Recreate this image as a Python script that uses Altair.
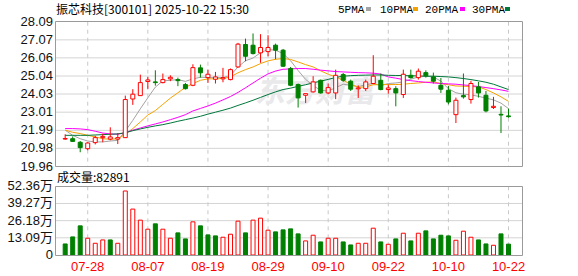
import altair as alt
import pandas as pd

# ---------------- data ----------------
dates = ["07-23","07-24","07-25","07-28","07-29","07-30","07-31","08-01","08-04","08-05",
         "08-06","08-07","08-08","08-11","08-12","08-13","08-14","08-15","08-18","08-19",
         "08-20","08-21","08-22","08-25","08-26","08-27","08-28","08-29","09-01","09-02",
         "09-03","09-04","09-05","09-08","09-09","09-10","09-11","09-12","09-15","09-16",
         "09-17","09-18","09-19","09-22","09-23","09-24","09-25","09-26","09-29","09-30",
         "10-09","10-10","10-13","10-14","10-15","10-16","10-17","10-20","10-21","10-22"]

opens = [21.50,21.52,21.32,20.96,21.30,21.58,21.50,21.50,21.58,23.75,
         23.94,24.73,24.71,24.67,24.88,24.84,24.56,24.52,25.50,24.95,
         24.86,24.88,24.84,25.55,26.81,26.77,26.34,26.41,26.77,26.49,
         25.46,24.56,23.96,24.15,24.80,24.09,24.09,25.12,24.75,24.32,
         24.33,24.62,24.80,24.28,24.33,24.00,25.08,24.95,25.23,24.99,
         24.52,24.24,22.87,23.94,23.72,24.43,23.96,23.27,22.89,22.80]
highs = [21.77,21.65,21.39,21.32,21.69,21.80,22.16,21.84,23.94,24.30,
         25.12,25.00,25.36,25.18,25.08,24.95,24.65,25.70,25.68,25.40,
         25.27,25.50,25.46,26.90,27.14,27.43,27.39,27.33,26.86,26.56,
         25.55,24.62,24.05,25.03,24.84,24.62,25.40,25.21,24.84,24.52,
         24.84,26.21,25.18,24.56,24.47,25.40,25.40,25.46,25.36,25.23,
         24.93,24.48,23.83,25.18,24.77,24.71,24.20,23.87,23.34,23.21]
lows = [21.47,21.34,20.76,20.87,21.20,21.32,21.43,21.22,21.58,23.42,
        23.94,24.32,24.50,24.63,24.75,24.47,24.28,24.47,24.95,24.65,
        24.62,24.69,24.80,25.51,25.87,26.25,25.78,26.15,25.98,25.55,
        24.47,23.27,23.53,24.11,24.05,24.02,23.74,24.71,24.20,23.81,
        24.20,24.58,24.24,24.05,23.34,23.81,24.90,24.84,24.95,24.62,
        24.09,23.45,22.40,23.77,23.49,23.83,23.00,23.19,21.84,22.70]
closes = [21.53,21.37,21.02,21.28,21.58,21.65,21.62,21.58,23.72,24.02,
          24.67,24.82,24.67,24.84,24.97,24.78,24.33,25.51,25.22,25.14,
          24.99,24.95,25.40,26.83,26.15,26.30,26.64,26.64,26.49,25.59,
          24.52,23.81,24.05,24.71,24.09,24.39,25.08,24.80,24.30,24.37,
          24.71,25.03,24.28,24.37,24.09,25.14,24.95,25.31,25.05,24.75,
          24.30,23.58,23.68,23.87,24.62,24.09,23.08,23.34,22.85,22.76]

volumes = [8.43,13.79,22.22,12.77,8.94,11.49,11.49,8.94,48.78,34.99,
           26.56,19.67,23.75,19.67,12.77,16.86,12.26,25.28,22.22,15.32,
           14.56,13.54,15.83,25.80,16.86,26.56,28.09,18.90,17.62,19.16,
           19.92,16.09,10.73,15.07,9.96,12.77,12.77,9.96,7.66,8.94,
           8.94,20.43,9.96,8.17,12.26,16.60,10.73,16.60,18.39,12.26,
           15.07,14.56,11.24,18.13,13.54,11.49,8.43,7.41,16.09,8.29]
vol_up = [0,0,0,1,1,1,0,1,1,1,
          1,1,0,1,1,0,0,1,0,0,
          0,1,1,1,0,1,1,1,0,0,
          0,0,1,1,0,1,1,0,0,1,
          1,1,0,1,0,1,0,1,0,0,
          0,0,1,1,1,0,0,1,0,0]

ma5 = [22.00,21.71,21.52,21.39,21.34,21.34,21.39,21.43,21.95,22.55,
       23.20,23.82,24.42,24.77,24.80,24.84,24.74,24.88,24.97,24.95,
       24.95,24.95,25.08,25.55,25.90,26.05,26.35,26.53,26.49,26.30,
       25.90,25.35,24.85,24.50,24.24,24.20,24.38,24.58,24.52,24.45,
       24.55,24.62,24.50,24.62,24.65,24.71,24.86,24.99,25.03,24.99,
       24.75,24.33,24.10,24.02,23.98,23.90,23.80,23.70,23.52,23.21]
ma10 = [22.00,21.88,21.81,21.71,21.62,21.52,21.49,21.52,21.77,22.09,
        22.46,22.85,23.10,23.45,23.80,24.10,24.40,24.62,24.80,24.88,
        24.88,24.90,24.99,25.22,25.40,25.55,25.74,25.89,25.98,26.02,
        25.97,25.83,25.68,25.55,25.33,25.14,24.99,24.80,24.58,24.41,
        24.43,24.55,24.56,24.56,24.56,24.58,24.62,24.65,24.69,24.71,
        24.62,24.55,24.48,24.47,24.45,24.43,24.28,24.09,23.87,23.62]
ma20 = [22.09,22.09,22.07,22.03,21.94,21.84,21.79,21.77,21.86,22.00,
        22.12,22.24,22.35,22.46,22.59,22.72,22.87,23.08,23.22,23.36,
        23.52,23.70,23.89,24.12,24.38,24.65,24.92,25.16,25.32,25.42,
        25.44,25.46,25.46,25.42,25.37,25.33,25.29,25.27,25.25,25.23,
        25.22,25.20,25.15,24.99,24.92,24.84,24.78,24.73,24.69,24.65,
        24.62,24.60,24.58,24.54,24.50,24.45,24.39,24.33,24.26,24.18]
ma30 = [21.71,21.71,21.71,21.71,21.73,21.75,21.77,21.79,21.86,21.97,
        22.07,22.16,22.24,22.31,22.40,22.50,22.59,22.68,22.78,22.90,
        23.01,23.12,23.24,23.39,23.53,23.68,23.84,24.00,24.15,24.28,
        24.36,24.46,24.55,24.66,24.75,24.85,24.96,25.03,25.06,25.08,
        25.09,25.10,25.10,25.08,25.07,25.07,25.05,25.05,25.03,25.03,
        25.01,24.99,24.95,24.90,24.84,24.77,24.69,24.58,24.43,24.28]

price_ticks = [28.09, 27.07, 26.06, 25.04, 24.03, 23.01, 21.99, 20.98, 19.96]
vol_ticks = [52.36, 39.27, 26.18, 13.09, 0]
vol_tick_labels = ["52.36万", "39.27万", "26.18万", "13.09万", "0"]
xlabel_dates = ["07-28", "08-07", "08-19", "08-29", "09-10", "09-22", "10-10", "10-22"]
title_text = "振芯科技[300101] 2025-10-22 15:30"
vol_title = "成交量:82891"
ma_names = ["5PMA", "10PMA", "20PMA", "30PMA"]
ma_colors = ["#a3a3a3", "#f5a200", "#ff00ff", "#00773a"]
watermark = "东方财富"

# ---------------- tables ----------------
idx = list(range(len(dates)))
df = pd.DataFrame({"i": idx, "date": dates, "open": opens, "high": highs,
                   "low": lows, "close": closes, "vol": volumes, "vup": vol_up,
                   "ma5": ma5, "ma10": ma10, "ma20": ma20, "ma30": ma30})
df["up"] = (df["close"] >= df["open"]).astype(int)
grid_df = df[df["date"].isin(xlabel_dates)]
pt_df = pd.DataFrame({"v": price_ticks, "lab": [f"{v:.2f}" for v in price_ticks]})
pgrid_df = pt_df.iloc[1:-1]
vt_df = pd.DataFrame({"v": vol_ticks, "lab": vol_tick_labels})
vgrid_df = vt_df.iloc[1:-1]
one = pd.DataFrame({"a": [0]})

RED = "#ff0000"
GREEN = "#008000"
GRID = "#d4d4d4"
FRAME = "#9a9a9a"
NUMFONT = "Liberation Sans"
CJK = "Noto Sans CJK SC"

X = alt.Scale(domain=[-0.65, 60.17], range=[55.3, 522.3], nice=False, zero=False)
YP = alt.Scale(domain=[19.96, 28.09], range=[166.5, 21.7], nice=False, zero=False)
YV = alt.Scale(domain=[0, 52.36], range=[255, 186.3], nice=False, zero=False)

def xq():
    return alt.X("i:Q", scale=X, axis=None)

layers = []

# background grids
layers.append(alt.Chart(pgrid_df).mark_rule(color=GRID, strokeWidth=1).encode(
    y=alt.Y("v:Q", scale=YP, axis=None), x=alt.value(55.3), x2=alt.value(522.3)))
layers.append(alt.Chart(vgrid_df).mark_rule(color=GRID, strokeWidth=1).encode(
    y=alt.Y("v:Q", scale=YV, axis=None), x=alt.value(55.3), x2=alt.value(522.3)))
layers.append(alt.Chart(grid_df).mark_rule(color="#c8c8c8", strokeWidth=1, strokeDash=[4, 4]).encode(
    x=xq(), y=alt.value(21.7), y2=alt.value(166.5)))
layers.append(alt.Chart(grid_df).mark_rule(color="#c8c8c8", strokeWidth=1, strokeDash=[4, 4]).encode(
    x=xq(), y=alt.value(186.3), y2=alt.value(255)))

# watermark
layers.append(alt.Chart(one).mark_text(text=watermark, font=CJK, fontSize=30, fontWeight="bold",
                                       fontStyle="italic", color="#e9e9ec", align="center",
                                       baseline="middle").encode(x=alt.value(315), y=alt.value(93)))

# moving averages
for col, colr in zip(["ma5", "ma10", "ma20", "ma30"], ma_colors):
    layers.append(alt.Chart(df).mark_line(color=colr, strokeWidth=1).encode(
        x=xq(), y=alt.Y(f"{col}:Q", scale=YP, axis=None)))

# candles
up_df = df[df["up"] == 1]
dn_df = df[df["up"] == 0]
layers.append(alt.Chart(up_df).mark_rule(color=RED, strokeWidth=1).encode(
    x=xq(), y=alt.Y("low:Q", scale=YP, axis=None), y2="high:Q"))
layers.append(alt.Chart(dn_df).mark_rule(color=GREEN, strokeWidth=1).encode(
    x=xq(), y=alt.Y("low:Q", scale=YP, axis=None), y2="high:Q"))
layers.append(alt.Chart(up_df).mark_bar(size=4, fill="white", stroke=RED, strokeWidth=1).encode(
    x=xq(), y=alt.Y("open:Q", scale=YP, axis=None), y2="close:Q"))
layers.append(alt.Chart(dn_df).mark_bar(size=4, fill=GREEN, stroke=GREEN, strokeWidth=1).encode(
    x=xq(), y=alt.Y("open:Q", scale=YP, axis=None), y2="close:Q"))

# volume
vu_df = df[df["vup"] == 1]
vd_df = df[df["vup"] == 0]
layers.append(alt.Chart(vu_df).mark_bar(size=4, fill="white", stroke=RED, strokeWidth=1).encode(
    x=xq(), y=alt.Y("vol:Q", scale=YV, axis=None), y2=alt.Y2(datum=0)))
layers.append(alt.Chart(vd_df).mark_bar(size=4, fill=GREEN, stroke=GREEN, strokeWidth=1).encode(
    x=xq(), y=alt.Y("vol:Q", scale=YV, axis=None), y2=alt.Y2(datum=0)))

# frames
layers.append(alt.Chart(one).mark_rect(fill=None, stroke=FRAME, strokeWidth=1).encode(
    x=alt.value(55.5), x2=alt.value(522.5), y=alt.value(21.5), y2=alt.value(166.5)))
layers.append(alt.Chart(one).mark_rect(fill=None, stroke=FRAME, strokeWidth=1).encode(
    x=alt.value(55.5), x2=alt.value(522.5), y=alt.value(186.5), y2=alt.value(255.5)))

# axis labels
layers.append(alt.Chart(pt_df).mark_text(font=NUMFONT, fontSize=13, color="#111111", align="right",
                                         baseline="middle").encode(
    y=alt.Y("v:Q", scale=YP, axis=None), x=alt.value(53), text="lab:N"))
layers.append(alt.Chart(vt_df).mark_text(font=NUMFONT + ", " + CJK, fontSize=13, color="#111111",
                                         align="right", baseline="middle").encode(
    y=alt.Y("v:Q", scale=YV, axis=None), x=alt.value(53), text="lab:N"))
layers.append(alt.Chart(grid_df).mark_text(font=NUMFONT, fontSize=13, color=RED, align="center",
                                           baseline="alphabetic").encode(
    x=xq(), y=alt.value(271), text="date:N"))

# titles
layers.append(alt.Chart(one).mark_text(text=title_text, font=CJK, fontSize=12, color="#000000",
                                       align="left", baseline="alphabetic").encode(
    x=alt.value(56), y=alt.value(13.5)))
layers.append(alt.Chart(one).mark_text(text=vol_title, font=CJK, fontSize=12, color="#000000",
                                       align="left", baseline="alphabetic").encode(
    x=alt.value(57), y=alt.value(182)))

# MA legend (label followed by a colour square)
leg_x = [338, 380, 425, 472]
sq_x = [366, 413, 460, 505]
for name, colr, lx, sx in zip(ma_names, ma_colors, leg_x, sq_x):
    layers.append(alt.Chart(one).mark_text(text=name, font="Liberation Mono", fontSize=11,
                                           color="#000000", align="left",
                                           baseline="alphabetic").encode(
        x=alt.value(lx), y=alt.value(13)))
    layers.append(alt.Chart(one).mark_rect(fill=colr).encode(
        x=alt.value(sx), x2=alt.value(sx + 5), y=alt.value(7), y2=alt.value(11)))

chart = alt.layer(*layers).resolve_scale(y="independent").properties(
    width=578, height=276, autosize=alt.AutoSizeParams(type="none"), padding=0,
    background="white"
).configure_view(stroke=None)

chart.save("out.html", embed_options={"renderer": "svg", "actions": False})
